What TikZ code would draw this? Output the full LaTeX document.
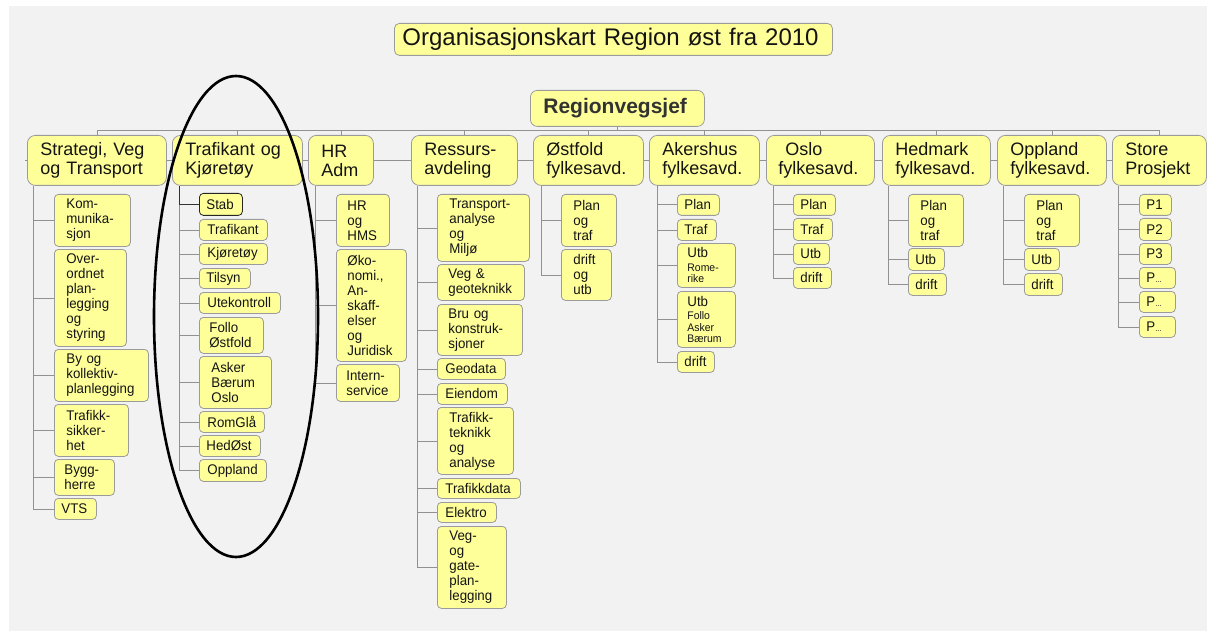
\documentclass[tikz,border=0pt]{standalone}
\usepackage{fontspec}
\setmainfont{Liberation Sans}
\newfontfamily\leaffont[FakeStretch=0.95]{Liberation Sans}
\usetikzlibrary{shapes.geometric}
\pgfdeclarelayer{back}\pgfdeclarelayer{lines}
\pgfsetlayers{back,lines,main}
\definecolor{bgc}{RGB}{242,242,242}
\definecolor{boxfill}{RGB}{255,255,153}
\definecolor{boxline}{RGB}{155,155,155}
\definecolor{lnc}{RGB}{145,145,145}
\definecolor{txt}{RGB}{20,20,20}
\definecolor{rvtxt}{RGB}{50,50,50}
\newcommand\sm{\fontsize{11}{11.5}\selectfont}
\newcommand\obpad{8}
\newcommand\obox[7][\obpad]{%
 \pgfmathsetmacro\obtw{#5-#3-2*(#1)}%
 \pgfmathsetmacro\obht{#6-#4}%
 \node[cbs,anchor=north west,text width=\obtw pt,inner xsep=#1pt,minimum height=\obht pt] (#2) at (#3,#4) {#7};}
\tikzset{
 leaf/.style={draw=boxline, fill=boxfill, rounded corners=4pt, font=\leaffont\fontsize{14}{15}\selectfont, text=txt, align=left, inner ysep=1pt, line width=0.8pt},
 topbox/.style={leaf, rounded corners=8pt, font=\fontsize{18}{19}\selectfont},
 titlebox/.style={leaf, rounded corners=5pt, font=\fontsize{24}{28}\selectfont},
 rvbox/.style={leaf, rounded corners=7pt, font=\fontsize{21}{24}\selectfont\bfseries, text=rvtxt},
 stabbox/.style={leaf, draw=black!85},
 conn/.style={draw=lnc, line width=0.8pt},
 cbs/.style={leaf}
}
\begin{document}
\begin{tikzpicture}[x=1pt,y=-1pt]
\useasboundingbox (0,0) rectangle (1207,631);
\begin{pgfonlayer}{back}
\fill[bgc] (9,6) rectangle (1207,631);
\end{pgfonlayer}
% title and head
\tikzset{cbs/.style={titlebox}}
\obox[8]{title}{394}{23}{832}{55}{Organisasjonskart Region øst fra 2010}
\tikzset{cbs/.style={rvbox}}
\obox[13]{rv}{530}{90}{704}{126}{Regionvegsjef}
% top level
\tikzset{cbs/.style={topbox}}
\obox[13]{strat}{27}{135}{166}{185}{Strategi, Veg\\og Transport}
\obox[13]{traf}{172}{135}{302}{185}{Trafikant og\\Kjøretøy}
\obox[13]{hr}{308}{135}{373}{185}{HR\\Adm}
\obox[13]{res}{411}{135}{517}{185}{Ressurs-\\avdeling}
\obox[13]{ost}{533}{135}{643}{185}{Østfold\\fylkesavd.}
\obox[13]{ak}{649}{135}{759}{185}{Akershus\\fylkesavd.}
\obox[12]{osl}{766}{135}{874}{185}{\hspace*{7pt}Oslo\\fylkesavd.}
\obox[13]{hed}{882}{135}{990}{185}{Hedmark\\fylkesavd.}
\obox[13]{opp}{997}{135}{1106}{185}{Oppland\\fylkesavd.}
\obox[13]{sto}{1112}{135}{1206}{185}{Store\\Prosjekt}
% leaves
\tikzset{cbs/.style={leaf}}
\obox[12]{s1}{54}{194}{130}{246}{Kom-\\munika-\\sjon}
\obox[12]{s2}{54}{249}{126}{346}{Over-\\ordnet\\plan-\\legging\\og\\styring}
\obox[12]{s3}{54}{349}{148}{401}{By og\\kollektiv-\\planlegging}
\obox[12]{s4}{54}{404}{128}{456}{Trafikk-\\sikker-\\het}
\obox[10]{s5}{54}{459}{114}{495}{Bygg-\\herre}
\obox[7]{s6}{54}{498}{96}{519}{VTS}
\tikzset{cbs/.style={stabbox}}
\obox[7]{t1}{199}{193}{242}{215}{Stab}
\tikzset{cbs/.style={leaf}}
\obox[8]{t2}{199}{219}{267}{240}{Trafikant}
\obox[8]{t3}{199}{243}{267}{264}{Kjøretøy}
\obox[7]{t4}{199}{268}{250}{288}{Tilsyn}
\obox[8]{t5}{199}{292}{280}{313}{Utekontroll}
\obox[10]{t6}{199}{317}{263}{353}{Follo\\Østfold}
\obox[12]{t7}{199}{356}{271}{408}{Asker\\Bærum\\Oslo}
\obox[8]{t8}{199}{411}{264}{432}{RomGlå}
\obox[7]{t9}{199}{435}{260}{456}{HedØst}
\obox[8]{t10}{199}{459}{266}{481}{Oppland}
\obox[11]{h1}{336}{194}{389}{246}{HR\\og\\HMS}
\obox[11]{h2}{336}{249}{406}{361}{Øko-\\nomi.,\\An-\\skaff-\\elser\\og\\Juridisk}
\obox[10]{h3}{336}{364}{399}{401}{Intern-\\service}
\obox[12]{r1}{437}{194}{529}{261}{Transport-\\analyse\\og\\Miljø}
\obox[11]{r2}{437}{264}{524}{300}{Veg \&\\geoteknikk}
\obox[11]{r3}{437}{304}{522}{355}{Bru og\\konstruk-\\sjoner}
\obox[8]{r4}{437}{358}{505}{379}{Geodata}
\obox[8]{r5}{437}{383}{507}{404}{Eiendom}
\obox[12]{r6}{437}{407}{513}{474}{Trafikk-\\teknikk\\og\\analyse}
\obox[8]{r7}{437}{478}{520}{498}{Trafikkdata}
\obox[8]{r8}{437}{502}{496}{522}{Elektro}
\obox[12]{r9}{437}{526}{506}{608}{Veg-\\og\\gate-\\plan-\\legging}
\obox[12]{o1}{561}{194}{616}{246}{Plan\\og\\traf}
\obox[12]{o2}{561}{249}{611}{300}{drift\\og\\utb}
\obox[7]{a1}{677}{194}{719}{215}{Plan}
\obox[7]{a2}{677}{219}{716}{240}{Traf}
\obox[10]{a3}{677}{243}{735}{287}{Utb\\[2pt]{\sm Rome-\\rike\par}}
\obox[10]{a4}{677}{291}{735}{347}{Utb\\[2pt]{\sm Follo\\Asker\\Bærum\par}}
\obox[7]{a5}{677}{351}{714}{372}{drift}
\obox[7]{l1}{793}{194}{835}{215}{Plan}
\obox[7]{l2}{793}{218}{832}{240}{Traf}
\obox[7]{l3}{793}{243}{829}{264}{Utb}
\obox[7]{l4}{793}{267}{831}{288}{drift}
\obox[12]{d1}{908}{194}{963}{246}{Plan\\og\\traf}
\obox[7]{d2}{908}{248}{944}{270}{Utb}
\obox[7]{d3}{908}{273}{946}{295}{drift}
\obox[12]{p1}{1024}{194}{1079}{246}{Plan\\og\\traf}
\obox[7]{p2}{1024}{248}{1059}{270}{Utb}
\obox[7]{p3}{1024}{273}{1062}{295}{drift}
\obox[7]{q1}{1139}{194}{1171}{215}{P1}
\obox[7]{q2}{1139}{218}{1171}{240}{P2}
\obox[7]{q3}{1139}{243}{1171}{264}{P3}
\obox[7]{q4}{1139}{267}{1175}{288}{P{\fontsize{8}{9}\selectfont...}}
\obox[7]{q5}{1139}{291}{1175}{312}{P{\fontsize{8}{9}\selectfont...}}
\obox[7]{q6}{1139}{316}{1175}{337}{P{\fontsize{8}{9}\selectfont...}}
% connectors
\begin{pgfonlayer}{lines}
\draw[conn] ([xshift=-2pt]strat.west) -- (sto.west);
\foreach \n in {strat,traf,hr,res,ost,ak,osl,hed,opp,sto}
  \draw[conn] (rv.south) -- ++(0,4) -| (\n.north);
\foreach \c in {s1,s2,s3,s4,s5,s6}
  \draw[conn] ([xshift=6pt]strat.south west) |- (\c.west);
\foreach \c in {t2,t3,t4,t5,t6,t7,t8,t9,t10}
  \draw[conn] ([xshift=7pt]traf.south west) |- (\c.west);
\draw[conn, draw=black!80] ([xshift=7pt]traf.south west) |- (t1.west);
\foreach \c in {h1,h2,h3}
  \draw[conn] ([xshift=7pt]hr.south west) |- (\c.west);
\foreach \c in {r1,r2,r3,r4,r5,r6,r7,r8,r9}
  \draw[conn] ([xshift=6pt]res.south west) |- (\c.west);
\foreach \c in {o1,o2}
  \draw[conn] ([xshift=8pt]ost.south west) |- (\c.west);
\foreach \c in {a1,a2,a3,a4,a5}
  \draw[conn] ([xshift=8pt]ak.south west) |- (\c.west);
\foreach \c in {l1,l2,l3,l4}
  \draw[conn] ([xshift=7pt]osl.south west) |- (\c.west);
\foreach \c in {d1,d2,d3}
  \draw[conn] ([xshift=6pt]hed.south west) |- (\c.west);
\foreach \c in {p1,p2,p3}
  \draw[conn] ([xshift=6pt]opp.south west) |- (\c.west);
\foreach \c in {q1,q2,q3,q4,q5,q6}
  \draw[conn] ([xshift=6pt]sto.south west) |- (\c.west);
\end{pgfonlayer}
% ellipse highlight
\node[ellipse, draw=black, line width=2.6pt, minimum width=164pt, minimum height=481pt, inner sep=0pt] (ring) at (236,316.5) {};
\end{tikzpicture}
\end{document}
